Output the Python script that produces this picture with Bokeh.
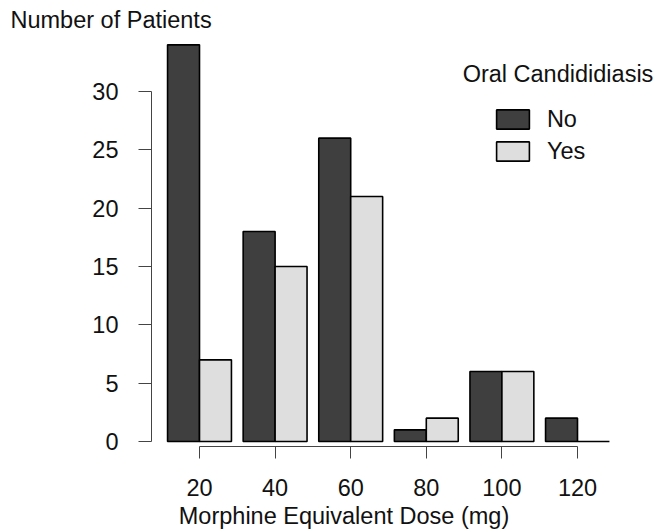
from bokeh.plotting import figure
from bokeh.models import (ColumnDataSource, Label, Legend, LegendItem,
                          FixedTicker, Range1d)
from bokeh.embed import file_html
from bokeh.resources import INLINE

# ---- data ----
doses = [20, 40, 60, 80, 100, 120]
no_counts = [34, 18, 26, 1, 6, 2]
yes_counts = [7, 15, 21, 2, 6, 0]
y_ticks = [0, 5, 10, 15, 20, 25, 30]
series_names = ["No", "Yes"]
y_title = "Number of Patients"
x_title = "Morphine Equivalent Dose (mg)"
legend_title = "Oral Candididiasis"

# ---- style ----
BAR_W = 8.45
FONT = "Liberation Sans"
FS = "23.5px"
DARK = "#3f3f3f"
LIGHT = "#dedede"
AXIS_C = "#444444"
TXT_C = "#111111"

src = ColumnDataSource(dict(
    x_no=[d - BAR_W / 2 for d in doses],
    x_yes=[d + BAR_W / 2 for d in doses],
    no=no_counts,
    yes=yes_counts,
))

p = figure(width=658, height=530, output_backend="svg", toolbar_location=None,
           x_range=Range1d(-32.646, 141.429), y_range=Range1d(-7.628, 37.80),
           min_border=0, outline_line_color=None,
           background_fill_color="white", border_fill_color="white")
p.title.visible = False
p.grid.visible = False

r_no = p.vbar(x="x_no", top="no", bottom=0, width=BAR_W, source=src,
              fill_color=DARK, line_color="black", line_width=1.6)
r_yes = p.vbar(x="x_yes", top="yes", bottom=0, width=BAR_W, source=src,
               fill_color=LIGHT, line_color="black", line_width=1.6)

# axes (R style: detached, limited to the tick range)
xa = p.xaxis[0]
xa.ticker = FixedTicker(ticks=doses)
xa.bounds = (doses[0], doses[-1])
xa.fixed_location = -0.4286
ya = p.yaxis[0]
ya.ticker = FixedTicker(ticks=y_ticks)
ya.bounds = (y_ticks[0], y_ticks[-1])
ya.fixed_location = 7.302
for ax, tick_out in ((xa, 12), (ya, 13)):
    ax.axis_line_color = AXIS_C
    ax.axis_line_width = 1
    ax.major_tick_line_color = AXIS_C
    ax.major_tick_in = 0
    ax.major_tick_out = tick_out
    ax.minor_tick_line_color = None
    ax.major_label_text_font = FONT
    ax.major_label_text_font_size = FS
    ax.major_label_text_color = TXT_C
    ax.major_label_standoff = 20
ya.major_label_text_baseline = "hanging"

# titles
common = dict(x_units="screen", y_units="screen", text_font=FONT,
              text_font_size=FS, text_color=TXT_C,
              text_baseline="alphabetic")
p.add_layout(Label(x=10, y=511, text=y_title, text_align="left", **common))
p.add_layout(Label(x=343.5, y=15, text=x_title, text_align="center", **common))
p.add_layout(Label(x=557.5, y=457, text=legend_title, text_align="center", **common))

legend = Legend(items=[LegendItem(label=series_names[0], renderers=[r_no]),
                       LegendItem(label=series_names[1], renderers=[r_yes])],
                location=(491.9, 365.4), orientation="vertical",
                glyph_width=41, glyph_height=24, label_standoff=14,
                spacing=5, padding=0, margin=0, label_height=24,
                border_line_color=None, background_fill_alpha=0,
                label_text_font=FONT, label_text_font_size=FS,
                label_text_color=TXT_C)
p.add_layout(legend)

open("out.html", "w").write(file_html(p, INLINE))
